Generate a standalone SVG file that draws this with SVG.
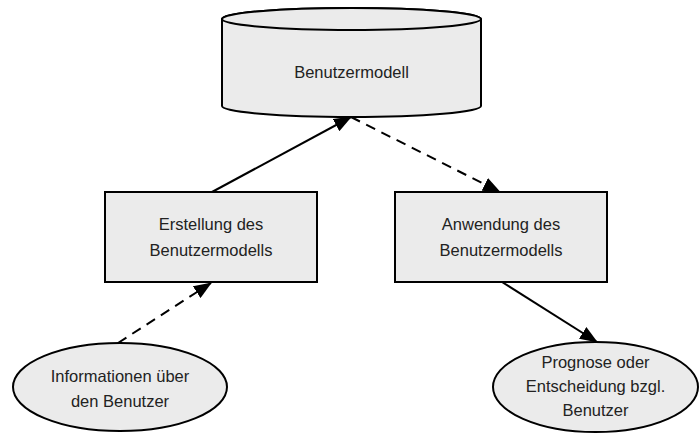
<svg xmlns="http://www.w3.org/2000/svg" width="699" height="434" viewBox="0 0 699 434">
  <style>
    .shape { fill: #ebebeb; stroke: #000; stroke-width: 2; }
    .label { font-family: "Liberation Sans", "DejaVu Sans", sans-serif; font-size: 16.5px; fill: #222; text-anchor: middle; }
    .edge { fill: none; stroke: #000; stroke-width: 2; }
    .dashed { stroke-dasharray: 10 7; }
  </style>
  <defs>
    <marker id="arrow" viewBox="0 0 18 14" refX="17" refY="7" markerWidth="18" markerHeight="14" markerUnits="userSpaceOnUse" orient="auto">
      <path d="M0,0 L18,7 L0,14 Z" fill="#000"/>
    </marker>
  </defs>

  <rect width="699" height="434" fill="#fff"/>

  <!-- user model store -->
  <g id="benutzermodell">
    <path class="shape" d="M222,19 L222,106 A129.5,11 0 0 0 481,106 L481,19 A129.5,11 0 0 0 222,19 Z"/>
    <ellipse class="shape" cx="351.5" cy="19" rx="129.5" ry="11"/>
    <text class="label" x="351.5" y="78">Benutzermodell</text>
  </g>

  <g id="erstellung">
    <rect class="shape" x="105" y="192" width="212" height="90"/>
    <text class="label" x="211" y="230">Erstellung des</text>
    <text class="label" x="211" y="256">Benutzermodells</text>
  </g>

  <g id="anwendung">
    <rect class="shape" x="395" y="192" width="212" height="90"/>
    <text class="label" x="501" y="230">Anwendung des</text>
    <text class="label" x="501" y="256">Benutzermodells</text>
  </g>

  <g id="informationen">
    <ellipse class="shape" cx="120" cy="387" rx="107" ry="44"/>
    <text class="label" x="120" y="382">Informationen über</text>
    <text class="label" x="120" y="407">den Benutzer</text>
  </g>

  <g id="prognose">
    <ellipse class="shape" cx="595.5" cy="387" rx="102.5" ry="45"/>
    <text class="label" x="595.5" y="368">Prognose oder</text>
    <text class="label" x="595.5" y="392">Entscheidung bzgl.</text>
    <text class="label" x="595.5" y="416">Benutzer</text>
  </g>

  <g id="connectors">
    <path class="edge" d="M212,192 L351,117" marker-end="url(#arrow)"/>
    <path class="edge dashed" d="M351,117 L500,192" marker-end="url(#arrow)"/>
    <path class="edge dashed" d="M118,343 L211,283" marker-end="url(#arrow)"/>
    <path class="edge" d="M502,282 L597,342" marker-end="url(#arrow)"/>
  </g>
</svg>
